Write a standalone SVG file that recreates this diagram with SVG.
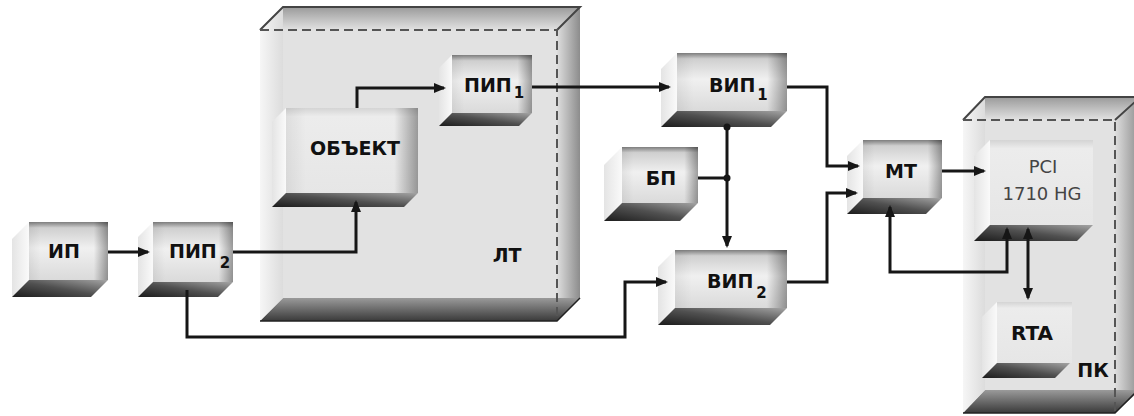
<svg xmlns="http://www.w3.org/2000/svg" width="1134" height="416" viewBox="0 0 1134 416">
<style>
  .lbl { font-family: "DejaVu Sans", "Liberation Sans", sans-serif; font-weight: bold; font-size: 19px; fill: #111; }
  .sub { font-size: 15px; }
  .reg { font-family: "DejaVu Sans", "Liberation Sans", sans-serif; font-weight: normal; font-size: 18px; fill: #444; }
  .front { fill: url(#gFront); }
  .frontH { fill: url(#gFrontH); }
  .side { fill: url(#gSide); }
  .bottom { fill: url(#gBottom); }
  .wire { fill: none; stroke: #161616; stroke-width: 3; stroke-linejoin: miter; }
  .arr { marker-end: url(#ah); }
  .arr2 { marker-start: url(#ah); marker-end: url(#ah); }
  .dash { fill: none; stroke: #555; stroke-width: 2; stroke-dasharray: 9 5; }
  .edge { fill: none; stroke: #444; stroke-width: 2; }
</style>
<defs>
  <linearGradient id="gFront" x1="0" y1="0" x2="0" y2="1">
    <stop offset="0" stop-color="#7e7e7e"/>
    <stop offset="0.1" stop-color="#cfcfcf"/>
    <stop offset="0.45" stop-color="#f0f0f0"/>
    <stop offset="1" stop-color="#dadada"/>
  </linearGradient>
  <linearGradient id="gFrontH" x1="0" y1="0" x2="1" y2="0">
    <stop offset="0" stop-color="#000" stop-opacity="0.06"/>
    <stop offset="0.15" stop-color="#000" stop-opacity="0"/>
    <stop offset="0.82" stop-color="#000" stop-opacity="0"/>
    <stop offset="1" stop-color="#000" stop-opacity="0.35"/>
  </linearGradient>
  <linearGradient id="gFlat" x1="0" y1="0" x2="0" y2="1">
    <stop offset="0" stop-color="#d4d4d4"/>
    <stop offset="0.1" stop-color="#ececec"/>
    <stop offset="1" stop-color="#e6e6e6"/>
  </linearGradient>
  <linearGradient id="gSide" x1="0" y1="0" x2="1" y2="0">
    <stop offset="0" stop-color="#e4e4e4"/>
    <stop offset="1" stop-color="#fafafa"/>
  </linearGradient>
  <linearGradient id="gBottom" x1="0" y1="1" x2="1" y2="0">
    <stop offset="0" stop-color="#1c1c1c"/>
    <stop offset="0.5" stop-color="#505050"/>
    <stop offset="1" stop-color="#a4a4a4"/>
  </linearGradient>
  <linearGradient id="gTop" x1="0" y1="0" x2="0" y2="1">
    <stop offset="0" stop-color="#9a9a9a"/>
    <stop offset="1" stop-color="#e2e2e2"/>
  </linearGradient>
  <linearGradient id="gRight" x1="0" y1="0" x2="1" y2="0">
    <stop offset="0" stop-color="#dedede"/>
    <stop offset="1" stop-color="#8c8c8c"/>
  </linearGradient>
  <linearGradient id="gBigBottom" x1="0" y1="0" x2="0" y2="1">
    <stop offset="0" stop-color="#9a9a9a"/>
    <stop offset="1" stop-color="#3a3a3a"/>
  </linearGradient>
  <linearGradient id="gLeft" x1="0" y1="0" x2="1" y2="0">
    <stop offset="0" stop-color="#f6f6f6"/>
    <stop offset="1" stop-color="#dcdcdc"/>
  </linearGradient>
  <marker id="ah" markerUnits="userSpaceOnUse" markerWidth="13" markerHeight="11" refX="10" refY="5" orient="auto-start-reverse">
    <path d="M0,0 L12,5 L0,10 z" fill="#161616"/>
  </marker>
</defs>

<rect width="1134" height="416" fill="#ffffff"/>

<g id="node-lt">
  <polygon points="283,7 580,7 580,298 557,321 260,321 260,30" fill="#e2e2e2"/>
  <polygon points="283,7 580,7 557,30 260,30" fill="url(#gTop)"/>
  <polygon points="580,7 580,298 557,321 557,30" fill="url(#gRight)"/>
  <polygon points="283,298 580,298 557,321 260,321" fill="url(#gBigBottom)"/>
  <polygon points="283,7 283,298 260,321 260,30" fill="url(#gLeft)"/>
  <path class="edge" d="M260,30 L283,7 H580 L557,30"/>
  <path d="M260,321 H557 L580,298" fill="none" stroke="#222" stroke-width="1.5"/>
  <path class="dash" d="M260,30 H557 V321"/>
  <text class="lbl" x="507" y="262" text-anchor="middle">ЛТ</text>
</g>

<g id="node-pk">
  <polygon points="985,97 1140,97 1140,390 1115,413 963,413 963,120" fill="#e2e2e2"/>
  <polygon points="985,97 1140,97 1115,120 963,120" fill="url(#gTop)"/>
  <polygon points="1140,97 1140,390 1115,413 1115,120" fill="url(#gRight)"/>
  <polygon points="985,390 1140,390 1115,413 963,413" fill="url(#gBigBottom)"/>
  <polygon points="985,97 985,390 963,413 963,120" fill="url(#gLeft)"/>
  <path class="edge" d="M963,120 L985,97 H1140 M1137,100 L1115,120"/>
  <path d="M963,413 H1115 L1138,390" fill="none" stroke="#222" stroke-width="1.5"/>
  <path class="dash" d="M963,120 H1115 V413"/>
  <text class="lbl" x="1093" y="377" text-anchor="middle">ПК</text>
</g>

<g id="node-ip">
  <polygon class="side" points="29,222 12,239 12,297 29,280"/>
  <polygon class="bottom" points="29,280 108,280 91,297 12,297"/>
  <rect class="front" x="29" y="222" width="79" height="58"/>
  <rect class="frontH" x="29" y="222" width="79" height="58"/>
  <text class="lbl" x="64" y="258" text-anchor="middle">ИП</text>
</g>

<g id="node-pip2">
  <polygon class="side" points="153,222 138,237 138,297 153,282"/>
  <polygon class="bottom" points="153,282 233,282 218,297 138,297"/>
  <rect class="front" x="153" y="222" width="80" height="60"/>
  <rect class="frontH" x="153" y="222" width="80" height="60"/>
  <text class="lbl" x="169" y="258">ПИП<tspan class="sub" dx="3" dy="10">2</tspan></text>
</g>

<g id="node-obekt">
  <polygon class="side" points="286,108 272,122 272,207 286,193"/>
  <polygon class="bottom" points="286,193 418,193 404,207 272,207"/>
  <rect x="286" y="108" width="132" height="85" fill="url(#gFlat)"/>
  <rect class="frontH" x="286" y="108" width="132" height="85"/>
  <text class="lbl" x="355" y="155" text-anchor="middle">ОБЪЕКТ</text>
</g>

<g id="node-pip1">
  <polygon class="side" points="452,55 439,68 439,126 452,113"/>
  <polygon class="bottom" points="452,113 532,113 519,126 439,126"/>
  <rect class="front" x="452" y="55" width="80" height="58"/>
  <rect class="frontH" x="452" y="55" width="80" height="58"/>
  <text class="lbl" x="464" y="92">ПИП<tspan class="sub" dx="2" dy="6">1</tspan></text>
</g>

<g id="node-vip1">
  <polygon class="side" points="677,53 661,69 661,127 677,111"/>
  <polygon class="bottom" points="677,111 787,111 771,127 661,127"/>
  <rect class="front" x="677" y="53" width="110" height="58"/>
  <rect class="frontH" x="677" y="53" width="110" height="58"/>
  <text class="lbl" x="709" y="92">ВИП<tspan class="sub" dx="2" dy="8">1</tspan></text>
</g>

<g id="node-bp">
  <polygon class="side" points="622,147 604,165 604,221 622,203"/>
  <polygon class="bottom" points="622,203 698,203 680,221 604,221"/>
  <rect class="front" x="622" y="147" width="76" height="56"/>
  <rect class="frontH" x="622" y="147" width="76" height="56"/>
  <text class="lbl" x="661" y="185" text-anchor="middle">БП</text>
</g>

<g id="node-vip2">
  <polygon class="side" points="675,250 658,267 658,325 675,308"/>
  <polygon class="bottom" points="675,308 787,308 770,325 658,325"/>
  <rect class="front" x="675" y="250" width="112" height="58"/>
  <rect class="frontH" x="675" y="250" width="112" height="58"/>
  <text class="lbl" x="707" y="288">ВИП<tspan class="sub" dx="3" dy="10">2</tspan></text>
</g>

<g id="node-mt">
  <polygon class="side" points="863,140 847,156 847,214 863,198"/>
  <polygon class="bottom" points="863,198 942,198 926,214 847,214"/>
  <rect class="front" x="863" y="140" width="79" height="58"/>
  <rect class="frontH" x="863" y="140" width="79" height="58"/>
  <text class="lbl" x="901" y="178" text-anchor="middle">МТ</text>
</g>

<g id="node-pci">
  <polygon class="side" points="990,140 974,156 974,241 990,225"/>
  <polygon class="bottom" points="990,225 1093,225 1077,241 974,241"/>
  <rect x="990" y="140" width="103" height="85" fill="url(#gFlat)"/>
  <text class="reg" x="1043" y="173" text-anchor="middle">PCI</text>
  <text class="reg" x="1042" y="200" text-anchor="middle">1710 HG</text>
</g>

<g id="node-rta">
  <polygon class="side" points="997,302 982,317 982,378 997,363"/>
  <polygon class="bottom" points="997,363 1070,363 1055,378 982,378"/>
  <rect x="997" y="302" width="75" height="61" fill="url(#gFlat)"/>
  <text class="lbl" x="1032" y="340" text-anchor="middle" style="font-size:20px">RTA</text>
</g>

<g id="connectors">
  <path class="wire arr" d="M108,252 H148"/>
  <path class="wire arr" d="M233,252 H356 V202"/>
  <path class="wire arr" d="M357,108 V88 H444"/>
  <path class="wire arr" d="M532,87 H669"/>
  <path class="wire arr" d="M187,290 V337 H625 V282 H666"/>
  <path class="wire arr" d="M727,127 V246"/>
  <path class="wire" d="M698,178 H727"/>
  <path class="wire arr" d="M787,87 H827 V166 H858"/>
  <path class="wire arr" d="M787,282 H827 V193 H856"/>
  <path class="wire arr" d="M942,171 H984"/>
  <path class="wire arr2" d="M890,207 V272 H1007 V229"/>
  <path class="wire arr2" d="M1028,229 V298"/>
  <circle cx="727" cy="127" r="3.5" fill="#161616"/>
  <circle cx="727" cy="178" r="3.5" fill="#161616"/>
</g>
</svg>
